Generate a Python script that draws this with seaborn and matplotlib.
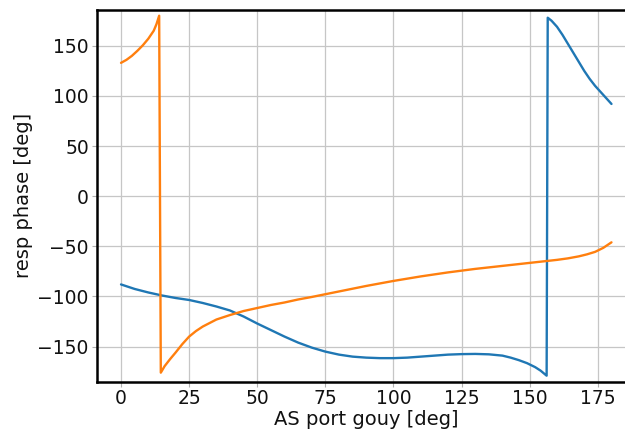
import numpy as np
import pandas as pd
import matplotlib
matplotlib.use("Agg")
import matplotlib.pyplot as plt
import seaborn as sns

blue_x = [0, 5, 10, 15, 20, 25, 30, 35, 40, 45, 50, 55, 60, 65, 70, 75, 80, 85, 90, 95,
          100, 105, 110, 115, 120, 125, 130, 135, 140, 143, 146, 149, 152, 154, 156.2, 156.6,
          158, 160, 162, 164, 166, 168, 170, 172, 174, 176, 178, 180]
blue_y = [-88, -92.5, -96, -99, -101.5, -103.5, -106.5, -110, -114, -120, -127, -133.5,
          -140, -146, -151, -155, -158, -160, -161, -161.5, -161.5, -161, -160, -159,
          -158, -157.5, -157.3, -157.7, -159, -161, -163.5, -166.5, -170.5, -174, -179, 178,
          175, 169, 161, 152, 143, 134, 125, 117, 110, 104, 98, 92]

orange_x = [0, 2, 4, 6, 8, 10, 12, 13, 14.0, 14.6, 16, 18, 20, 22.5, 25, 27.5, 30, 35, 40,
            45, 50, 55, 60, 65, 70, 80, 90, 100, 110, 120, 130, 140, 150, 155, 160, 164,
            168, 171, 174, 177, 180]
orange_y = [133, 136, 140, 145, 150.5, 157, 165, 171.5, 180, -176, -169.5, -162.5, -156,
            -147.5, -140, -134.5, -130, -123, -118.5, -114.5, -111.5, -108.5, -106, -103,
            -100.5, -95, -89.5, -84.5, -80, -76, -72.5, -69.5, -66.5, -65, -63.5, -62,
            -60, -58, -55.5, -51.5, -46]

xlabel = "AS port gouy [deg]"
ylabel = "resp phase [deg]"

sns.set_style("whitegrid")
plt.rcParams['font.family'] = ['DejaVu Sans']

fig = plt.figure(figsize=(6.25, 4.32), dpi=100)
ax = fig.add_axes([96.5 / 625, 1 - 381.7 / 432, (636 - 96.5) / 625, (381.7 - 9.7) / 432])

sns.lineplot(x=blue_x, y=blue_y, sort=False, estimator=None, color='#1f77b4', lw=1.7, ax=ax)
sns.lineplot(x=orange_x, y=orange_y, sort=False, estimator=None, color='#ff7f0e', lw=1.7, ax=ax)

ax.set_xlim(-9, 189)
ax.set_ylim(-185, 186)
ax.set_xticks([0, 25, 50, 75, 100, 125, 150, 175])
ax.set_yticks([-150, -100, -50, 0, 50, 100, 150])
ax.grid(True, color='#c6c6c6', lw=0.9)
for s in ax.spines.values():
    s.set_color('black')
    s.set_linewidth(1.8)
ax.spines['right'].set_visible(False)
ax.tick_params(axis='both', which='major', length=3.5, width=0.8, color='#b0b0b0',
               labelsize=13.5, pad=2, left=True, bottom=True, labelcolor='#111111')
ax.set_xlabel(xlabel, fontsize=14, labelpad=1, color='#111111')
ax.set_ylabel(ylabel, fontsize=14, labelpad=3, color='#111111')

fig.savefig("out.png", dpi=100)
